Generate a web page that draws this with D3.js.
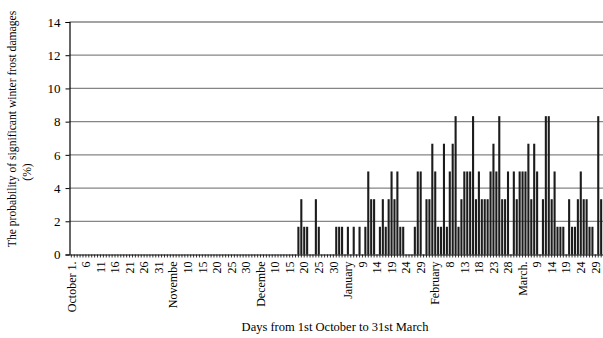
<!DOCTYPE html>
<html>
<head>
<meta charset="utf-8">
<script src="https://cdn.jsdelivr.net/npm/d3@7/dist/d3.min.js"></script>
<style>
  html, body { margin: 0; padding: 0; background: #fff; }
  svg { display: block; }
  text { font-family: "Liberation Serif", "Times New Roman", serif; fill: #000; }
</style>
</head>
<body>
<svg id="chart" width="603" height="338"></svg>
<script>
// One category per day of the 2011/12 winter season (1 Oct – 31 Mar, 183 days)
const days = d3.timeDay.range(new Date(2011, 9, 1), new Date(2012, 3, 1));

// Category labels, shown on every fifth day
const dayLabels = [
  "October 1.", "6", "11", "16", "21", "26", "31",
  "Novembe", "10", "15", "20", "25", "30",
  "Decembe", "10", "15", "20", "25", "30",
  "January", "9", "14", "19", "24", "29",
  "February", "8", "13", "18", "23", "28",
  "March.", "9", "14", "19", "24", "29"
];

// Value-axis ticks (%)
const yTicks = [0, 2, 4, 6, 8, 10, 12, 14];

// Probability of significant winter frost damage per day (%)
const frostProbability = [
  // October
  0, 0, 0, 0, 0, 0, 0, 0, 0, 0, 0, 0, 0, 0, 0, 0, 0, 0, 0, 0,
  0, 0, 0, 0, 0, 0, 0, 0, 0, 0, 0,
  // November
  0, 0, 0, 0, 0, 0, 0, 0, 0, 0, 0, 0, 0, 0, 0, 0, 0, 0, 0, 0,
  0, 0, 0, 0, 0, 0, 0, 0, 0, 0,
  // December
  0, 0, 0, 0, 0, 0, 0, 0, 0, 0, 0, 0, 0, 0, 0, 0, 0,
  1.67, 3.33, 1.67, 1.67, 0, 0, 3.33, 1.67, 0, 0, 0, 0, 0, 1.67,
  // January
  1.67, 1.67, 0, 1.67, 0, 1.67, 0, 1.67, 0, 1.67,
  5, 3.33, 3.33, 0, 1.67, 3.33, 1.67, 3.33, 5, 3.33,
  5, 1.67, 1.67, 0, 0, 0, 1.67, 5, 5, 0, 3.33,
  // February
  3.33, 6.67, 5, 1.67, 1.67, 6.67, 1.67, 5, 6.67, 8.33,
  1.67, 3.33, 5, 5, 5, 8.33, 3.33, 5, 3.33, 3.33,
  3.33, 5, 6.67, 5, 8.33, 3.33, 3.33, 5, 0,
  // March
  5, 3.33, 5, 5, 5, 6.67, 3.33, 6.67, 5, 0,
  3.33, 8.33, 8.33, 3.33, 5, 1.67, 1.67, 1.67, 0, 3.33,
  1.67, 1.67, 3.33, 5, 3.33, 3.33, 1.67, 1.67, 0, 8.33, 3.33
];

const svg = d3.select("#chart");

const plot = { left: 69.5, right: 602.5, top: 22, bottom: 254.5 };

const x = d3.scaleBand()
  .domain(d3.range(days.length))
  .range([plot.left + 0.5, plot.right])
  .paddingInner(0.28)
  .paddingOuter(0.1);

const y = d3.scaleLinear()
  .domain([0, 14])
  .range([plot.bottom, plot.top]);

// Horizontal gridlines
svg.append("g")
  .selectAll("line")
  .data(yTicks.filter(d => d > 0))
  .join("line")
  .attr("x1", plot.left)
  .attr("x2", 603)
  .attr("y1", d => y(d))
  .attr("y2", d => y(d))
  .attr("stroke", "#858585")
  .attr("stroke-width", 1.3);

// Daily bars
svg.append("g")
  .selectAll("rect")
  .data(frostProbability.map((v, i) => ({ i, v })).filter(d => d.v > 0))
  .join("rect")
  .attr("x", d => x(d.i))
  .attr("width", x.bandwidth())
  .attr("y", d => y(d.v))
  .attr("height", d => y(0) - y(d.v))
  .attr("fill", "#1c1c1c");

// Value axis
const yAxis = svg.append("g")
  .attr("transform", `translate(${plot.left},0)`)
  .call(d3.axisLeft(y).tickValues(yTicks).tickFormat(d3.format("d")).tickSize(4).tickPadding(5));
yAxis.select(".domain").attr("stroke", "#000").attr("stroke-width", 1.2);
yAxis.selectAll(".tick line").attr("stroke", "#000");
yAxis.selectAll("text")
  .style("font-size", "13px")
  .style("font-family", "'Liberation Serif', 'Times New Roman', serif");

// Category axis
const xAxis = svg.append("g")
  .attr("transform", `translate(0,${plot.bottom})`)
  .call(d3.axisBottom(x)
    .tickSize(3)
    .tickSizeOuter(0)
    .tickFormat(i => (i % 5 === 0 ? dayLabels[i / 5] : "")));
xAxis.select(".domain").attr("stroke", "#000").attr("stroke-width", 1.2);
xAxis.selectAll(".tick line").attr("stroke", "#000").attr("stroke-width", 0.8);
xAxis.selectAll("text")
  .attr("transform", "rotate(-90)")
  .attr("x", -7)
  .attr("y", 0)
  .attr("dy", "0.35em")
  .attr("text-anchor", "end")
  .style("font-size", "12px")
  .style("font-family", "'Liberation Serif', 'Times New Roman', serif");

// Axis titles
svg.append("text")
  .attr("transform", "translate(12,129) rotate(-90)")
  .attr("text-anchor", "middle")
  .attr("dy", "0.35em")
  .style("font-size", "11.6px")
  .text("The probability of significant winter frost damages");

svg.append("text")
  .attr("transform", "translate(27,172) rotate(-90)")
  .attr("text-anchor", "middle")
  .attr("dy", "0.35em")
  .style("font-size", "11.6px")
  .text("(%)");

svg.append("text")
  .attr("x", 335)
  .attr("y", 327)
  .attr("text-anchor", "middle")
  .attr("dy", "0.35em")
  .style("font-size", "12.5px")
  .text("Days from 1st October to 31st March");
</script>
</body>
</html>
